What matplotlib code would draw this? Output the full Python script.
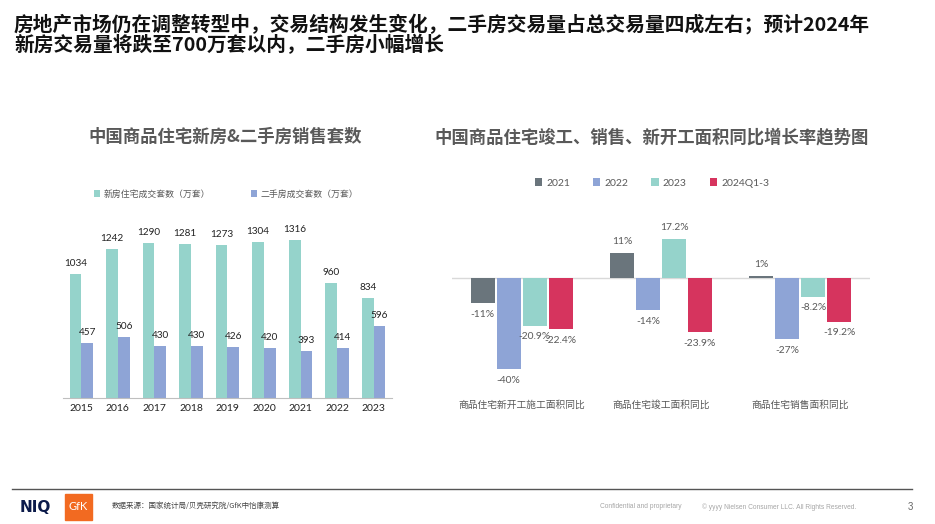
import matplotlib.pyplot as plt
import matplotlib.patches as mpatches
import numpy as np

CJK = ['Noto Sans CJK SC', 'DejaVu Sans']
MIX = ['Lato', 'Noto Sans CJK SC', 'DejaVu Sans']
plt.rcParams['font.family'] = MIX

# ---- data: left chart (万套)
years = ['2015', '2016', '2017', '2018', '2019', '2020', '2021', '2022', '2023']
new_homes = [1034, 1242, 1290, 1281, 1273, 1304, 1316, 960, 834]
resale_homes = [457, 506, 430, 430, 426, 420, 393, 414, 596]
left_series = ['新房住宅成交套数（万套）', '二手房成交套数（万套）']

# ---- data: right chart (同比 %)
groups = ['商品住宅新开工施工面积同比', '商品住宅竣工面积同比', '商品住宅销售面积同比']
periods = ['2021', '2022', '2023', '2024Q1-3']
growth = {
    '2021': [-11, 11, 1],
    '2022': [-40, -14, -27],
    '2023': [-20.9, 17.2, -8.2],
    '2024Q1-3': [-22.4, -23.9, -19.2],
}
growth_labels = {
    '2021': ['-11%', '11%', '1%'],
    '2022': ['-40%', '-14%', '-27%'],
    '2023': ['-20.9%', '17.2%', '-8.2%'],
    '2024Q1-3': ['-22.4%', '-23.9%', '-19.2%'],
}

TEAL = '#95D3CB'
BLUE = '#8EA4D6'
DARK = '#6A757C'
RED = '#D6345E'
GRAY_TXT = '#595959'

fig = plt.figure(figsize=(9.35, 5.24), dpi=100)
W, H = 935, 524

def fx(px):
    return px / W

def fy(py):
    return 1 - py / H

# ---- titles
fig.text(fx(14), fy(24), '房地产市场仍在调整转型中，交易结构发生变化，二手房交易量占总交易量四成左右；预计2024年',
         family=CJK, fontsize=14.2, fontweight='bold', color='#111111', va='center', ha='left')
fig.text(fx(14), fy(45), '新房交易量将跌至700万套以内，二手房小幅增长',
         family=CJK, fontsize=14.2, fontweight='bold', color='#111111', va='center', ha='left')
fig.text(fx(225), fy(137), '中国商品住宅新房&二手房销售套数', family=CJK, fontsize=12.5,
         fontweight='bold', color=GRAY_TXT, ha='center', va='center')
fig.text(fx(652), fy(137), '中国商品住宅竣工、销售、新开工面积同比增长率趋势图', family=CJK, fontsize=12.5,
         fontweight='bold', color=GRAY_TXT, ha='center', va='center')

# ---- left chart
ax1 = fig.add_axes([fx(63), fy(398), fx(329), 180 / H])
x = np.arange(len(years))
bw = 0.32
b1 = ax1.bar(x - bw / 2, new_homes, bw, color=TEAL, label=left_series[0])
b2 = ax1.bar(x + bw / 2, resale_homes, bw, color=BLUE, label=left_series[1])
for rect, v in zip(b1, new_homes):
    ax1.text(rect.get_x() + rect.get_width() / 2, v + 50, str(v), ha='center', va='bottom',
             fontsize=7.2, color='#222222')
for rect, v in zip(b2, resale_homes):
    ax1.text(rect.get_x() + rect.get_width() / 2, v + 50, str(v), ha='center', va='bottom',
             fontsize=7.2, color='#222222')
ax1.set_xlim(-0.5, len(years) - 0.5)
ax1.set_ylim(0, 1500)
ax1.set_xticks(x)
ax1.set_xticklabels(years, fontsize=7.5, color='#222222')
ax1.tick_params(axis='x', length=0, pad=4)
ax1.set_yticks([])
for s in ['top', 'right', 'left']:
    ax1.spines[s].set_visible(False)
ax1.spines['bottom'].set_color('#BFBFBF')
fig.legend(handles=[b1, b2], loc='center', bbox_to_anchor=(fx(226), fy(194)), ncol=2,
           frameon=False, prop={'family': CJK, 'size': 6.4}, labelcolor=GRAY_TXT,
           handlelength=0.7, handleheight=0.7, handletextpad=0.4, columnspacing=4.6)

# ---- right chart
ax2 = fig.add_axes([fx(452), fy(380.2), fx(418), 170.2 / H])
gx = np.arange(len(groups))
rbw = 0.172
step = 0.186
colors = [DARK, BLUE, TEAL, RED]
handles = []
for i, p in enumerate(periods):
    offs = (i - 1.5) * step
    bars = ax2.bar(gx + offs, growth[p], rbw, color=colors[i], label=p, zorder=3)
    handles.append(bars)
    for rect, v, lab in zip(bars, growth[p], growth_labels[p]):
        cx = rect.get_x() + rect.get_width() / 2
        if v >= 0:
            ax2.text(cx, v + 3, lab, ha='center', va='bottom', fontsize=7.4, color=GRAY_TXT)
        else:
            ax2.text(cx, v - 3, lab, ha='center', va='top', fontsize=7.4, color=GRAY_TXT)
ax2.axhline(0, color='#D9D9D9', lw=1, zorder=2)
ax2.set_xlim(-0.5, len(groups) - 0.5)
ax2.set_ylim(-45, 30)
ax2.set_yticks([])
ax2.set_xticks([])
for s in ax2.spines.values():
    s.set_visible(False)
for g, lab in zip(gx, groups):
    ax2.text(g, -56, lab, ha='center', va='center', family=CJK, fontsize=7, color=GRAY_TXT)
fig.legend(handles=handles, loc='center', bbox_to_anchor=(fx(652), fy(183)), ncol=4,
           frameon=False, fontsize=7.5, labelcolor=GRAY_TXT,
           handlelength=0.7, handleheight=0.7, handletextpad=0.4, columnspacing=2.2)

# ---- footer
fig.add_artist(plt.Line2D([fx(12), fx(912)], [fy(489), fy(489)], color='#555555', lw=1))
fig.text(fx(20), fy(508), 'NIQ', family=['DejaVu Sans'], fontsize=11, fontweight='bold',
         color='#0B1A4A', va='center', ha='left')
fig.add_artist(mpatches.Rectangle((fx(65), fy(520)), fx(27), 26 / H, transform=fig.transFigure,
                                  color='#F26A21'))
fig.text(fx(78.5), fy(507), 'GfK', fontsize=8, color='white', va='center', ha='center')
fig.text(fx(112), fy(506), '数据来源：国家统计局/贝壳研究院/GfK中怡康测算', family=CJK,
         fontsize=5.4, color='#444444', va='center', ha='left')
fig.text(fx(600), fy(507), 'Confidential and proprietary', family=['Liberation Sans'],
         fontsize=4.8, color='#A6A6A6', va='center', ha='left')
fig.text(fx(702), fy(507), '© yyyy Nielsen Consumer LLC. All Rights Reserved.', family=['Liberation Sans'],
         fontsize=4.8, color='#A6A6A6', va='center', ha='left')
fig.text(fx(908), fy(507), '3', family=['Liberation Sans'], fontsize=7, color='#666666',
         va='center', ha='left')

fig.savefig('out.png', dpi=100)
